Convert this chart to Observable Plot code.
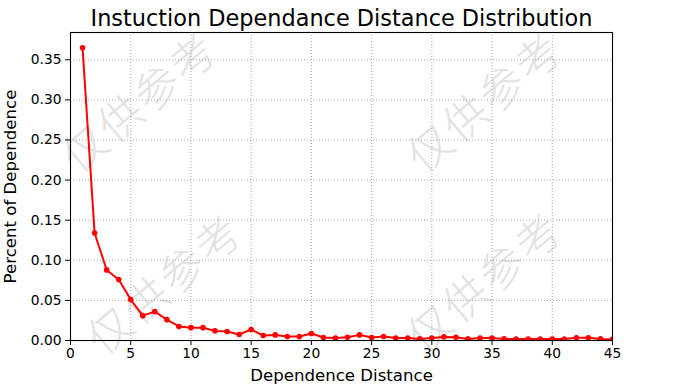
<!DOCTYPE html>
<html>
<head>
<meta charset="utf-8">
<script src="https://cdn.jsdelivr.net/npm/d3@7"></script>
<script src="https://cdn.jsdelivr.net/npm/@observablehq/plot@0.6"></script>
<style>
  body { margin: 0; background: white; }
  #wrap { position: relative; width: 674px; height: 384px; overflow: hidden; }
  .wm { position: absolute; font-family: "Noto Sans CJK SC", sans-serif; font-size: 44px;
        color: #e2e2e2; letter-spacing: 3px; white-space: nowrap; transform: translate(-50%, -50%) rotate(-40deg);
        font-weight: 300; }
  #chart { position: absolute; left: 0; top: 0; }
  #chart [aria-label="x-axis label"] text, #chart [aria-label="y-axis label"] text { font-size: 16.6px; }
</style>
</head>
<body>
<div id="wrap">
  <div class="wm" style="left:138px; top:100px;">仅供参考</div>
  <div class="wm" style="left:163px; top:282px;">仅供参考</div>
  <div class="wm" style="left:483px; top:100px;">仅供参考</div>
  <div class="wm" style="left:483px; top:280px;">仅供参考</div>
  <div id="chart"></div>
</div>
<script>
const distance = [1,2,3,4,5,6,7,8,9,10,11,12,13,14,15,16,17,18,19,20,21,22,23,24,25,26,27,28,29,30,31,32,33,34,35,36,37,38,39,40,41,42,43,44,45];
const percent = [0.365,0.134,0.088,0.076,0.051,0.031,0.036,0.026,0.0175,0.016,0.016,0.012,0.0112,0.0075,0.0137,0.0062,0.007,0.005,0.005,0.0087,0.0037,0.003,0.004,0.007,0.0037,0.005,0.003,0.003,0.002,0.003,0.0045,0.004,0.002,0.003,0.003,0.002,0.0018,0.0018,0.0018,0.0018,0.0018,0.0035,0.0035,0.002,0.0015];
const xTicks = [0,5,10,15,20,25,30,35,40,45];
const yTicks = [0,0.05,0.10,0.15,0.20,0.25,0.30,0.35];
const title = "Instuction Dependance Distance Distribution";
const xLabel = "Dependence Distance";
const yLabel = "Percent of Dependence";

const data = distance.map((d, i) => ({distance: d, percent: percent[i]}));

const chart = Plot.plot({
  width: 674,
  height: 384,
  marginLeft: 70,
  marginRight: 62,
  marginTop: 32,
  marginBottom: 44,
  style: {fontFamily: "DejaVu Sans, sans-serif", fontSize: "13px", background: "transparent", color: "black"},
  x: {domain: [0, 45]},
  y: {domain: [0, 0.384]},
  marks: [
    Plot.gridX(xTicks, {stroke: "#a8a8a8", strokeOpacity: 1, strokeWidth: 1, strokeDasharray: "1,2"}),
    Plot.gridY(yTicks, {stroke: "#a8a8a8", strokeOpacity: 1, strokeWidth: 1, strokeDasharray: "1,2"}),
    Plot.axisX({ticks: xTicks, tickSize: 5, tickPadding: 3, fontSize: 13.8, label: xLabel, labelAnchor: "center", labelArrow: "none", labelOffset: 40}),
    Plot.axisY({ticks: yTicks, tickSize: 5, tickPadding: 4, fontSize: 13.8, tickFormat: d3.format(".2f"), label: yLabel, labelAnchor: "center", labelArrow: "none", labelOffset: 66}),
    Plot.line(data, {x: "distance", y: "percent", stroke: "red", strokeWidth: 2, clip: true}),
    Plot.dot(data, {x: "distance", y: "percent", fill: "red", r: 2.8, clip: true}),
    Plot.frame({stroke: "black", strokeWidth: 1.1}),
    Plot.text([title], {frameAnchor: "top", lineAnchor: "bottom", dy: -7, fontSize: 22.4, fill: "black"})
  ]
});
document.getElementById("chart").appendChild(chart);
</script>
</body>
</html>
